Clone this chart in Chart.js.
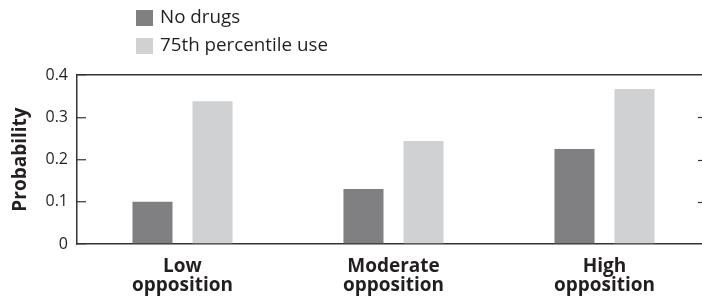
<!DOCTYPE html>
<html>
<head>
<meta charset="utf-8">
<script src="https://cdn.jsdelivr.net/npm/chart.js@4/dist/chart.umd.min.js"></script>
<style>
  html, body { margin: 0; padding: 0; background: #fff; overflow: hidden; }
  #wrap { position: relative; width: 712px; height: 297px; }
</style>
</head>
<body>
<div id="wrap"><canvas id="chart"></canvas></div>
<script>
const categories = [['Low', 'opposition'], ['Moderate', 'opposition'], ['High', 'opposition']];
const seriesNames = ['No drugs', '75th percentile use'];
const noDrugs = [0.10, 0.13, 0.225];
const highUse = [0.338, 0.244, 0.367];
const yTicks = [0, 0.1, 0.2, 0.3, 0.4];

const ink = '#231f20';
const darkGray = '#808083';
const lightGray = '#d0d1d3';

// legend drawn as a stacked list above the plot
const stackedLegend = {
    id: 'stackedLegend',
    afterDraw(chart) {
        const ctx = chart.ctx;
        ctx.save();
        ctx.font = '18.8px "Open Sans"';
        ctx.textBaseline = 'middle';
        chart.data.datasets.forEach((ds, i) => {
            const y = 18 + i * 28;
            ctx.fillStyle = ds.backgroundColor;
            ctx.fillRect(136, y - 8, 17, 16);
            ctx.fillStyle = ink;
            ctx.fillText(ds.label, 160, y);
        });
        ctx.restore();
    }
};

// small inward ticks on the right edge
const rightTicks = {
    id: 'rightTicks',
    afterDraw(chart) {
        const ctx = chart.ctx;
        const y = chart.scales.y;
        const right = chart.chartArea.right;
        ctx.save();
        ctx.strokeStyle = '#333';
        ctx.lineWidth = 1.2;
        yTicks.slice(1, -1).forEach(v => {
            const py = Math.round(y.getPixelForValue(v)) + 0.5;
            ctx.beginPath();
            ctx.moveTo(right - 12, py);
            ctx.lineTo(right, py);
            ctx.stroke();
        });
        ctx.restore();
    }
};

new Chart(document.getElementById('chart').getContext('2d'), {
    type: 'bar',
    data: {
        labels: categories,
        datasets: [
            { label: seriesNames[0], data: noDrugs, backgroundColor: darkGray },
            { label: seriesNames[1], data: highUse, backgroundColor: lightGray }
        ]
    },
    options: {
        responsive: true,
        maintainAspectRatio: false,
        animation: false,
        categoryPercentage: 0.569,
        barPercentage: 0.667,
        layout: { padding: { top: 75, left: 5, right: 2, bottom: 0 } },
        plugins: {
            legend: { display: false },
            tooltip: { enabled: false }
        },
        scales: {
            x: {
                grid: { display: false, drawTicks: false },
                border: { color: '#333', width: 1.5 },
                ticks: {
                    color: ink,
                    padding: 13,
                    maxRotation: 0,
                    font: { family: 'Open Sans', size: 19, weight: 'bold', lineHeight: 1.02 }
                },
                afterFit(scale) { scale.height = 53; }
            },
            y: {
                min: 0,
                max: 0.4,
                afterBuildTicks(scale) { scale.ticks = yTicks.map(v => ({ value: v })); },
                grid: {
                    color: ctx => ctx.tick && ctx.tick.value === 0.4 ? '#333' : 'rgba(0,0,0,0)',
                    lineWidth: 1.5,
                    tickColor: '#333',
                    tickWidth: 1.2,
                    tickLength: -9
                },
                border: { color: '#333', width: 1.5 },
                ticks: {
                    color: ink,
                    padding: 18,
                    font: { family: 'Open Sans', size: 16 },
                    callback: v => String(v)
                },
                title: {
                    display: true,
                    text: 'Probability',
                    color: ink,
                    font: { family: 'Open Sans', size: 19, weight: 'bold' }
                },
                afterFit(scale) { scale.width = 72; }
            }
        }
    },
    plugins: [stackedLegend, rightTicks]
});
</script>
</body>
</html>
